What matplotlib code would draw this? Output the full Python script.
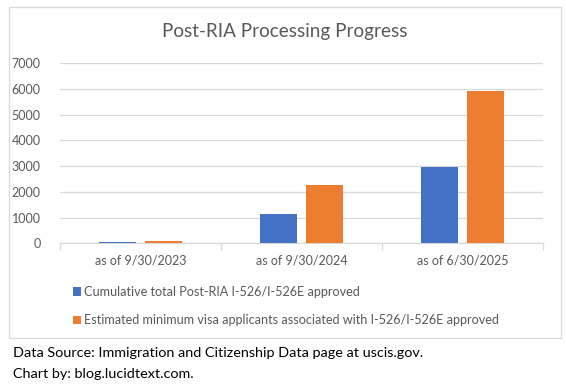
import matplotlib
matplotlib.use('Agg')
import matplotlib.pyplot as plt
from matplotlib.patches import Rectangle
import numpy as np

# data
categories = ["as of 9/30/2023", "as of 9/30/2024", "as of 6/30/2025"]
approved = [50, 1140, 2970]        # Cumulative total Post-RIA I-526/I-526E approved
applicants = [90, 2270, 5930]      # Estimated minimum visa applicants
series_names = ["Cumulative total Post-RIA I-526/I-526E approved",
                "Estimated minimum visa applicants associated with I-526/I-526E approved"]
yticks = [0, 1000, 2000, 3000, 4000, 5000, 6000, 7000]

BLUE = "#4472C4"
ORANGE = "#ED7D31"
GREY_TXT = "#595959"
GRID = "#d9d9d9"
W, H = 566, 387

plt.rcParams['font.family'] = ['Lato', 'DejaVu Sans']

fig = plt.figure(figsize=(W / 100, H / 100), dpi=100)

# chart area border (Excel style)
fig.patches.append(Rectangle((9.3 / W, 1 - 338.3 / H), (561.3 - 9.3) / W, (338.3 - 7) / H,
                             transform=fig.transFigure, fill=False,
                             edgecolor=GRID, linewidth=0.9))

ax = fig.add_axes([60 / W, 1 - 243.3 / H, (543 - 60) / W, (243.3 - 63.4) / H])

x = np.arange(len(categories))
bw = 0.224
ax.bar(x - 0.143, approved, bw, color=BLUE, label=series_names[0], zorder=3)
ax.bar(x + 0.143, applicants, bw, color=ORANGE, label=series_names[1], zorder=3)

ax.set_xlim(-0.5, len(categories) - 0.5)
ax.set_ylim(0, 7000)
ax.set_yticks(yticks)
ax.yaxis.grid(True, color=GRID, linewidth=0.9, zorder=0)
ax.set_axisbelow(True)

for s in ['top', 'right', 'left']:
    ax.spines[s].set_visible(False)
ax.spines['bottom'].set_color(GRID)
ax.spines['bottom'].set_linewidth(0.9)

ax.set_xticks(x)
ax.set_xticklabels(categories)
ax.set_xticks(np.arange(-0.5, len(categories)), minor=True)
ax.tick_params(axis='x', which='major', length=0, pad=8, labelsize=9, labelcolor=GREY_TXT)
ax.tick_params(axis='x', which='minor', length=5, color=GRID, width=0.9)
ax.tick_params(axis='y', length=0, pad=14, labelsize=9, labelcolor=GREY_TXT)

fig.text(285 / W, 1 - 32 / H, "Post-RIA Processing Progress", ha='center', va='center',
         fontsize=13.6, color=GREY_TXT)

leg = fig.legend(loc='upper left', bbox_to_anchor=(68 / W, 1 - 281 / H), frameon=False,
                 fontsize=9.1, handlelength=0.65, handleheight=0.65, handletextpad=0.25,
                 labelspacing=1.3, borderaxespad=0)
for t in leg.get_texts():
    t.set_color(GREY_TXT)

fig.text(13 / W, 1 - 353 / H, "Data Source: Immigration and Citizenship Data page at uscis.gov.",
         ha='left', va='center', fontsize=10.4, color='black')
fig.text(13 / W, 1 - 374 / H, "Chart by: blog.lucidtext.com.",
         ha='left', va='center', fontsize=10.4, color='black')

fig.savefig("out.png", dpi=100)
